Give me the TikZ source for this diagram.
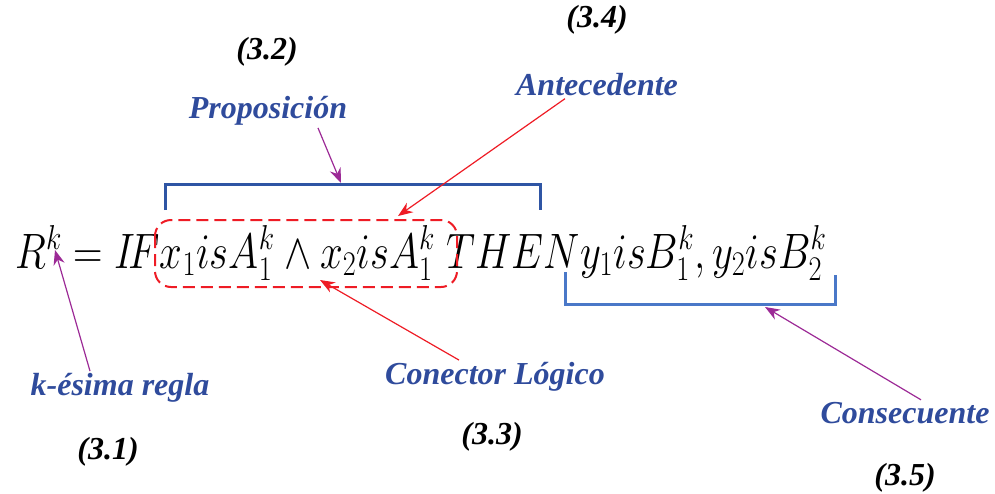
\documentclass[tikz,border=0pt]{standalone}
\usepackage{fontspec}
\setmainfont{Liberation Serif}
\usepackage{tikz}
\usetikzlibrary{arrows.meta}
\DeclareMathSizes{24}{24}{19}{14}
\definecolor{RuleBlue}{HTML}{2F4B9C}
\definecolor{RuleBar}{HTML}{2F55A4}
\definecolor{RuleBarLight}{HTML}{4A78C8}
\definecolor{RulePurple}{HTML}{9C2A96}
\definecolor{RuleRed}{HTML}{EE1C25}

\begin{document}
\begin{tikzpicture}[
  x=0.5pt,y=-0.5pt,
  tag/.style={font=\fontsize{16}{18}\selectfont\bfseries\itshape,inner sep=1pt},
  part/.style={tag,text=RuleBlue},
  formula/.style={anchor=base west,inner sep=0pt,font=\fontsize{24}{28}\selectfont},
  bar/.style={draw=RuleBar,line width=1.5pt},
  barlight/.style={draw=RuleBarLight,line width=1.5pt},
  dashbox/.style={draw=RuleRed,line width=1pt,dash pattern=on 6pt off 3pt,rounded corners=8pt},
  parr/.style={-{Stealth[length=2.6mm,width=2mm]},draw=RulePurple,line width=0.6pt},
  rarr/.style={-{Stealth[length=2.6mm,width=2mm]},draw=RuleRed,line width=0.6pt}
]
\useasboundingbox (0,0) rectangle (995,493);
% the rule itself
\node[formula] (rule) at (15,268)
  {\scalebox{0.82}[1]{$R^k = I\!F x_1 is A_1^k \wedge x_2 is A_1^k\; THEN y_1 is B_1^k, y_2 is B_2^k$}};
% labels
\node[tag] (t31) at (108,452) {(3.1)};
\node[tag] (t32) at (267,52) {(3.2)};
\node[tag] (t33) at (492,437) {(3.3)};
\node[tag] (t34) at (597,20) {(3.4)};
\node[tag] (t35) at (905,478) {(3.5)};
\node[part] (kreg) at (120,388) {k-ésima regla};
\node[part] (prop) at (268,111) {Proposición};
\node[part] (ante) at (597,85) {Antecedente};
\node[part] (conec) at (495,377) {Conector Lógico};
\node[part] (cons) at (905,413) {Consecuente};
% brackets and box
\draw[bar] (165,210) -- (165,184) -- (540,184) -- (540,210);
\draw[barlight] (565,272) -- (565,304) -- (835,304) -- (835,275);
\draw[dashbox] (155,220) rectangle (457,287);
% pointers
\coordinate (propTip) at (341,183);
\coordinate (anteTip) at (398,216);
\coordinate (conTip) at (320,280);
\coordinate (kTip) at (55,250);
\coordinate (consTip) at (765,307);
\draw[parr] ([xshift=25pt]prop.south) -- (propTip);
\draw[rarr] ([xshift=-16pt]ante.south) -- (anteTip);
\draw[rarr] ([xshift=-18pt]conec.north) -- (conTip);
\draw[parr] ([xshift=-15pt]kreg.north) -- (kTip);
\draw[parr] ([xshift=8pt]cons.north) -- (consTip);
\end{tikzpicture}
\end{document}
